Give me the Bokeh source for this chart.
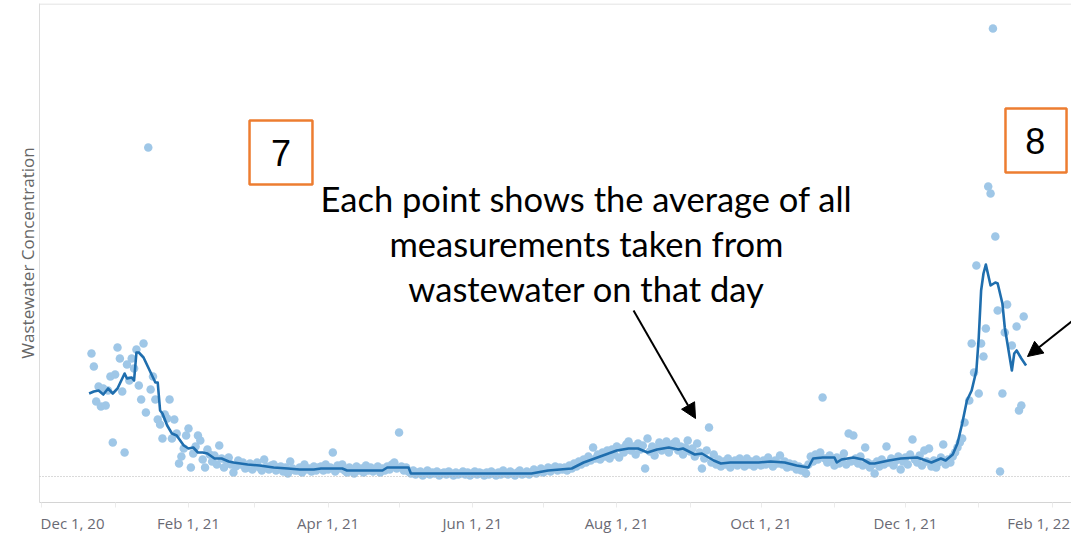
import pandas as pd
from bokeh.plotting import figure
from bokeh.models import (Range1d, FixedTicker, Span, BoxAnnotation, Label,
                          Arrow, NormalHead, ColumnDataSource)
from bokeh.embed import file_html
from bokeh.resources import INLINE

# Days since Dec 1, 2020
START = pd.Timestamp("2020-12-01")

point_days = [
    21, 22, 23, 24, 25, 26, 27, 28, 29, 30, 31, 32, 33, 34, 35, 36, 37, 38, 39, 40,
    41, 42, 43, 44, 45, 46, 47, 48, 49, 50, 51, 52, 53, 54, 55, 56, 57, 58, 59, 60,
    61, 62, 63, 64, 65, 66, 67, 68, 69, 70, 71, 72, 73, 74, 75, 76, 77, 78, 79, 80,
    81, 82, 83, 84, 85, 86, 87, 88, 89, 90, 91, 92, 93, 94, 95, 96, 97, 98, 99, 100,
    101, 102, 103, 104, 105, 106, 107, 108, 109, 110, 111, 112, 113, 114, 115, 116, 117,
    118, 119, 120, 121, 122, 123, 124, 125, 126, 127, 128, 129, 130, 131, 132, 133, 134,
    135, 136, 137, 138, 139, 140, 141, 142, 143, 144, 145, 146, 147, 148, 149, 150, 151,
    152, 153, 154, 155, 156, 157, 158, 159, 160, 161, 162, 163, 164, 165, 166, 167, 168,
    169, 170, 171, 172, 173, 174, 175, 176, 177, 178, 179, 180, 181, 182, 183, 184, 185,
    186, 187, 188, 189, 190, 191, 192, 193, 194, 195, 196, 197, 198, 199, 200, 201, 202,
    203, 204, 205, 206, 207, 208, 209, 210, 211, 212, 213, 214, 215, 216, 217, 218, 219,
    220, 221, 222, 223, 224, 225, 226, 227, 228, 229, 230, 231, 232, 233, 234, 235, 236,
    237, 238, 239, 240, 241, 242, 243, 244, 245, 246, 247, 248, 249, 250, 251, 252, 253,
    254, 255, 256, 257, 258, 259, 260, 261, 262, 263, 264, 265, 266, 267, 268, 269, 270,
    271, 272, 273, 274, 275, 276, 277, 278, 279, 280, 281, 282, 283, 284, 285, 286, 287,
    288, 289, 290, 291, 292, 293, 294, 295, 296, 297, 298, 299, 300, 301, 302, 303, 304,
    305, 306, 307, 308, 309, 310, 311, 312, 313, 314, 315, 316, 317, 318, 319, 320, 321,
    322, 323, 324, 325, 326, 327, 328, 329, 330, 331, 332, 333, 334, 335, 336, 337, 338,
    339, 340, 341, 342, 343, 344, 345, 346, 347, 348, 349, 350, 351, 352, 353, 354, 355,
    356, 357, 358, 359, 360, 361, 362, 363, 364, 365, 366, 367, 368, 369, 370, 371, 372,
    373, 374, 375, 376, 377, 378, 379, 380, 381, 382, 383, 384, 385, 386, 387, 388, 389,
    390, 392, 393, 394, 395, 396, 397, 398, 399, 400, 401, 402, 403, 404, 405, 406, 407,
    408, 410, 412, 413, 414, 415,
]
point_vals = [
    123, 110, 75, 90, 70, 88, 71, 86, 100, 34, 102, 129, 118, 85, 24, 112, 96, 118, 108, 127,
    91, 77, 133, 64, 329, 87, 100, 77, 57, 52, 38, 62, 58, 77, 38, 57, 43, 13, 20, 28,
    41, 48, 9, 23, 30, 41, 36, 17, 9, 27, 22, 15, 21, 12, 31, 18, 9, 16, 19, 12,
    4, 10, 16, 12, 14, 8, 9, 13, 7, 11, 14, 9, 6, 17, 10, 7, 11, 12, 6, 9,
    10, 5, 9, 3, 15, 8, 6, 6, 9, 4, 12, 7, 8, 5, 10, 6, 9,
    10, 6, 12, 7, 9, 24, 5, 11, 8, 12, 6, 4, 9, 7, 3, 10, 6,
    8, 4, 11, 6, 9, 5, 7, 10, 4, 8, 6, 10, 7, 12, 14, 8, 44,
    10, 6, 9, 5, 3, 6, 2, 4, 5, 1, 3, 6, 2, 4, 3, 5, 1,
    3, 4, 2, 5, 3, 1, 4, 2, 3, 5, 2, 4, 1, 3, 5, 2, 4,
    3, 1, 4, 2, 5, 3, 1, 4, 2, 6, 3, 2, 5, 3, 1, 4, 6,
    2, 3, 5, 2, 4, 7, 3, 5, 8, 4, 6, 9, 5, 8, 10, 6, 9,
    7, 9, 6, 11, 8, 13, 10, 15, 12, 17, 14, 20, 16, 29, 18, 22, 17,
    24, 20, 26, 18, 27, 22, 30, 19, 28, 24, 32, 35, 26, 30, 22, 33, 27,
    31, 8, 38, 25, 30, 21, 28, 34, 26, 31, 35, 24, 29, 33, 35, 26, 30,
    22, 29, 36, 25, 28, 20, 33, 24, 8, 18, 26, 49, 14, 22, 12, 17, 10,
    15, 12, 18, 9, 14, 16, 11, 18, 13, 10, 18, 12, 15, 10, 17, 13, 11,
    16, 12, 19, 14, 10, 16, 13, 21, 12, 15, 9, 13, 10, 12, 7, 10, 6,
    8, 3, 12, 20, 15, 22, 17, 24, 79, 18, 14, 21, 16, 11, 19, 13, 17,
    23, 12, 43, 15, 41, 18, 13, 20, 11, 29, 14, 9, 12, 3, 15, 10, 17,
    12, 30, 14, 18, 11, 16, 20, 7, 15, 19, 12, 22, 37, 17, 14, 21, 11,
    26, 15, 28, 10, 16, 9, 14, 19, 32, 12, 17, 14, 20, 24, 29, 34, 38,
    54, 76, 133, 104, 211, 83, 133, 120, 148, 290, 283, 448, 240, 166, 5, 83, 144,
    172, 131, 150, 66, 71, 160,
]

line_days = [
    20, 22, 24, 26, 28, 30, 32, 35, 36, 38, 39, 40, 41, 43, 45, 47, 48, 49, 50, 51,
    53, 55, 57, 60, 62, 64, 66, 68, 70, 73, 76, 79, 81, 87, 92, 98, 104, 109, 115, 118,
    127, 129, 144, 146, 155, 156, 168, 194, 207, 214, 219, 224, 229, 236, 243, 248, 252,
    256, 260, 265, 269, 271, 276, 279, 284, 287, 291, 297, 303, 308, 314, 319, 324, 326,
    330, 335, 336, 338, 343, 347, 350, 352, 358, 363, 370, 376, 380, 382, 385, 387, 389,
    391, 393, 395, 396, 397, 398, 399, 401, 403, 404, 406, 407, 410, 411, 412, 414, 416,
]
line_vals = [
    83, 85, 86, 82, 88, 83, 88, 103, 98, 99, 96, 124, 124, 119, 109, 99, 94, 94, 66, 63,
    51, 43, 41, 31, 28, 29, 24, 24, 23, 18, 18, 15, 14, 12, 11, 9, 8, 7, 7, 8,
    8, 6, 6, 9, 9, 3, 3, 3, 3, 6, 7, 8, 14, 20, 26, 28, 28,
    24, 27, 29, 27, 28, 22, 23, 16, 13, 14, 14, 14, 15, 14, 11, 9, 18,
    19, 19, 14, 17, 19, 17, 13, 13, 16, 18, 19, 14, 18, 16, 22, 33, 53,
    76, 86, 106, 139, 186, 203, 212, 191, 194, 193, 173, 149, 106, 123, 126, 118, 111,
]

tick_labels = ["Dec 1, 20", "Feb 1, 21", "Apr 1, 21", "Jun 1, 21",
               "Aug 1, 21", "Oct 1, 21", "Dec 1, 21", "Feb 1, 22"]
# where each label is centred (the two end labels are nudged inwards, as in the original)
tick_label_days = [13.0, 62, 121, 182, 243, 304, 365, 421.3]
month_dates = pd.date_range("2020-12-01", "2022-02-01", freq="MS")
month_days = [(m - START).days for m in month_dates]

X0, X1 = -0.97, 435.2
Y0, Y1 = -26, 473

p = figure(width=1071, height=540, output_backend="svg", toolbar_location=None,
           x_range=Range1d(X0, X1), y_range=Range1d(Y0, Y1),
           min_border_left=39, min_border_right=0, min_border_top=3,
           min_border_bottom=38)
p.outline_line_color = None
p.xgrid.visible = False
p.ygrid.visible = False
p.background_fill_color = "white"
p.border_fill_color = "white"

# x axis
xa = p.xaxis[0]
xa.ticker = FixedTicker(ticks=tick_label_days, minor_ticks=month_days)
xa.major_label_overrides = {d: lab for d, lab in zip(tick_label_days, tick_labels)}
xa.axis_line_color = "#d4d4d4"
xa.major_tick_line_color = None
xa.minor_tick_line_color = "#ebebeb"
xa.major_tick_in = 0
xa.minor_tick_in = 0
xa.major_tick_out = 5
xa.minor_tick_out = 5
xa.major_label_standoff = 5
xa.major_label_text_font = "Open Sans"
xa.major_label_text_font_size = "15px"
xa.major_label_text_color = "#6a6a74"

# y axis
ya = p.yaxis[0]
ya.ticker = FixedTicker(ticks=[])
ya.major_label_text_font_size = "0px"
ya.major_tick_line_color = None
ya.minor_tick_line_color = None
ya.axis_line_color = "#dcdcdc"
ya.axis_label = "Wastewater Concentration"
ya.axis_label_text_font = "Open Sans"
ya.axis_label_text_font_size = "17px"
ya.axis_label_text_font_style = "normal"
ya.axis_label_text_color = "#666666"
ya.axis_label_standoff = 1

# zero line and top line
p.add_layout(Span(location=0, dimension="width", line_color="#b4b4b4",
                  line_dash="1 2", line_width=1))
p.add_layout(Span(location=Y1 - 0.5, dimension="width", line_color="#dadada",
                  line_width=1))

pts = ColumnDataSource(dict(x=point_days, y=point_vals))
p.scatter("x", "y", source=pts, size=8.5, color="#9fc7e7", line_color=None)
ln = ColumnDataSource(dict(x=line_days, y=line_vals))
p.line("x", "y", source=ln, line_color="#1f6eae", line_width=2.6,
       line_join="round")

# annotation boxes
orange = "#ed7d31"
p.add_layout(BoxAnnotation(left=87.8, right=114.4, top=356, bottom=292,
                           fill_alpha=0, line_color=orange, line_alpha=1,
                           line_width=2.5))
p.add_layout(Label(x=101.1, y=324, text="7", text_align="center",
                   text_baseline="middle", text_font="Liberation Sans",
                   text_font_size="36px", text_color="black"))
p.add_layout(BoxAnnotation(left=407.3, right=433.1, top=368, bottom=304,
                           fill_alpha=0, line_color=orange, line_alpha=1,
                           line_width=2.5))
p.add_layout(Label(x=419.9, y=336, text="8", text_align="center",
                   text_baseline="middle", text_font="Liberation Sans",
                   text_font_size="36px", text_color="black"))

# explanatory text
note_lines = ["Each point shows the average of all",
              "measurements taken from",
              "wastewater on that day"]
for i, t in enumerate(note_lines):
    p.add_layout(Label(x=230.2, y=278 - 45 * i, text=t, text_align="center",
                       text_baseline="middle", text_font="Lato",
                       text_font_size="34.5px", text_color="black"))

p.add_layout(Arrow(end=NormalHead(size=15, fill_color="black", line_color="black"),
                   x_start=250.1, y_start=166, x_end=276.3, y_end=58,
                   line_color="black", line_width=2))
p.add_layout(Arrow(end=NormalHead(size=15, fill_color="black", line_color="black"),
                   x_start=X1, y_start=155, x_end=416.6, y_end=120,
                   line_color="black", line_width=2))

open("out.html", "w").write(file_html(p, INLINE))
